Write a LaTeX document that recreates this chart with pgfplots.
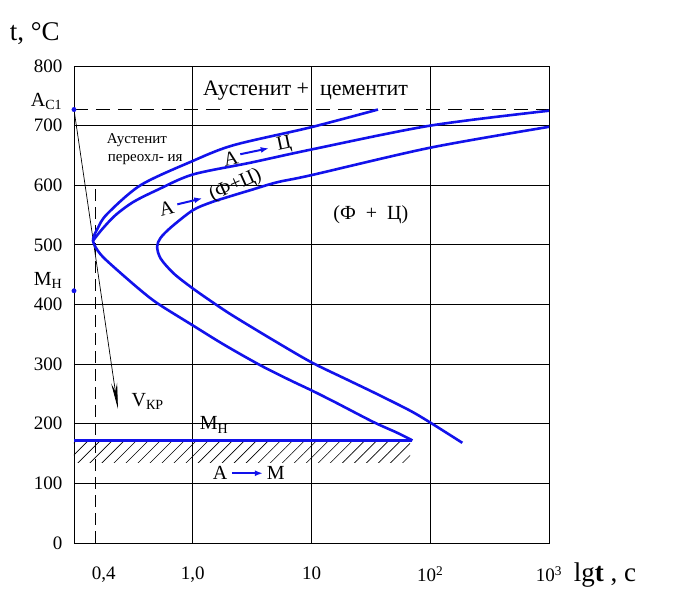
\documentclass[border=0pt]{standalone}
\usepackage{fontspec}
\setmainfont{Liberation Serif}
\usepackage{pgfplots}
\pgfplotsset{compat=1.18}
\usetikzlibrary{arrows.meta,patterns.meta}
\definecolor{cblue}{RGB}{18,18,235}
\begin{document}
\begin{tikzpicture}[font=\fontsize{20}{24}\selectfont]
\begin{axis}[name=ax, scale only axis, width=475pt, height=477pt,
  xmin=-1, xmax=3, ymin=0, ymax=800,
  xtick={0,1,2,3}, xticklabels={{1{,}0},{10},{10\textsuperscript{2}},{10\textsuperscript{3}}},
  extra x ticks={-0.75}, extra x tick labels={{0{,}4}}, extra x tick style={grid=none},
  ytick={0,100,...,800},
  grid=major, major grid style={black, line width=0.8pt},
  axis line style={line width=0.8pt},
  major tick length=0pt,
  tick label style={font=\fontsize{19}{22}\selectfont},
  xticklabel style={yshift=-20pt},
  yticklabel style={xshift=-8pt},
  /pgf/number format/assume math mode=true,
  clip=false,
]
% hatched zone under M_H
\addplot[draw=none, pattern={Lines[angle=45,distance=8.5pt,line width=0.6pt]}] coordinates {(-1,135) (1.83,135) (1.83,172) (-1,172) (-1,135)};
% A_C1 dashed line
\addplot[black, line width=0.8pt, dash pattern=on 14pt off 8pt] coordinates {(-1,727) (3,727)};
% dashed vertical at 0,4
\addplot[black, line width=0.8pt, dash pattern=on 12pt off 6pt] coordinates {(-0.82,0) (-0.82,600)};
% critical cooling rate
\addplot[black, line width=0.7pt, -{Stealth[length=26pt,width=6pt]}] coordinates {(-1,727) (-0.63,225)};
% inner curve (start of transformation)
\addplot[cblue, line width=2.6pt, smooth, tension=0.5] coordinates {
(1.56,727) (0.99,697) (0.34,667) (-0.02,639) (-0.44,600) (-0.72,552) (-0.80,528) (-0.84,507)
(-0.78,485) (-0.66,462) (-0.44,424) (-0.29,401) (0,365) (0.26,333) (0.57,298)
(0.82,273) (1.0,256) (1.2,236) (1.52,203) (1.72,185) (1.85,172)};
% middle curve
\addplot[cblue, line width=2.6pt, smooth, tension=0.5] coordinates {
(3.0,725) (2.0,700) (1.0,660) (0.49,638) (0,618) (-0.3,592) (-0.5,572) (-0.65,550) (-0.76,527) (-0.84,507)};
% outer curve (end of transformation)
\addplot[cblue, line width=2.6pt, smooth, tension=0.5] coordinates {
(3.0,698) (2.0,663) (1.0,617) (0.71,605) (0.49,592) (0.34,583) (0.15,571) (0,558) (-0.18,530) (-0.27,512) (-0.30,497)
(-0.27,477) (-0.16,452) (0,427) (0.18,402) (0.34,381) (0.68,340) (1.0,303) (1.30,274)
(1.55,250) (1.83,222) (2.0,202) (2.27,168)};
% M_H line
\addplot[cblue, line width=3pt] coordinates {(-1,172) (1.85,172)};
% dots on the temperature axis
\addplot[only marks, mark=*, mark size=2.2pt, cblue] coordinates {(-1,727) (-1,423)};
% label arrows
\addplot[cblue, line width=2pt, -{Latex[length=8pt,width=6pt]}] coordinates {(0.40,652) (0.64,662)};
\addplot[cblue, line width=2pt, -{Latex[length=8pt,width=6pt]}] coordinates {(-0.13,568) (0.08,578)};
\addplot[cblue, line width=2pt, -{Latex[length=8pt,width=6pt]}] coordinates {(0.33,117) (0.59,117)};
% texts
\node[font=\fontsize{22}{26}\selectfont] at (axis cs:0.95,758) {Аустенит +\ \ цементит};
\node[font=\fontsize{15}{18}\selectfont] at (axis cs:-0.47,676) {Аустенит};
\node[font=\fontsize{15}{18}\selectfont] at (axis cs:-0.40,643) {переохл- ия};
\node at (axis cs:1.50,550) {(Ф \ +\ \ Ц)};
\node[rotate=12] at (axis cs:0.32,644) {А};
\node[rotate=12] at (axis cs:0.77,668) {Ц};
\node[rotate=14] at (axis cs:-0.22,562) {А};
\node[rotate=24] at (axis cs:0.36,600) {(Ф+Ц)};
\node at (axis cs:0.18,198) {М\textsubscript{Н}};
\node at (axis cs:0.23,117) {А};
\node at (axis cs:0.70,117) {М};
\node at (axis cs:-0.38,238) {V\textsubscript{КР}};
\node[anchor=east] at (axis cs:-1.07,740) {А\textsubscript{С1}};
\node[anchor=east] at (axis cs:-1.07,440) {М\textsubscript{Н}};
\node[anchor=west, font=\fontsize{27}{30}\selectfont] at (axis cs:3.18,-54) {lg\textbf{t} , с};
\node[anchor=west, font=\fontsize{27}{30}\selectfont] at (axis cs:-1.57,855) {t, °C};
\end{axis}
\pgfresetboundingbox
\path[use as bounding box] ([xshift=-74pt,yshift=-70pt]ax.south west) rectangle ++(673pt,613pt);
\end{tikzpicture}
\end{document}
